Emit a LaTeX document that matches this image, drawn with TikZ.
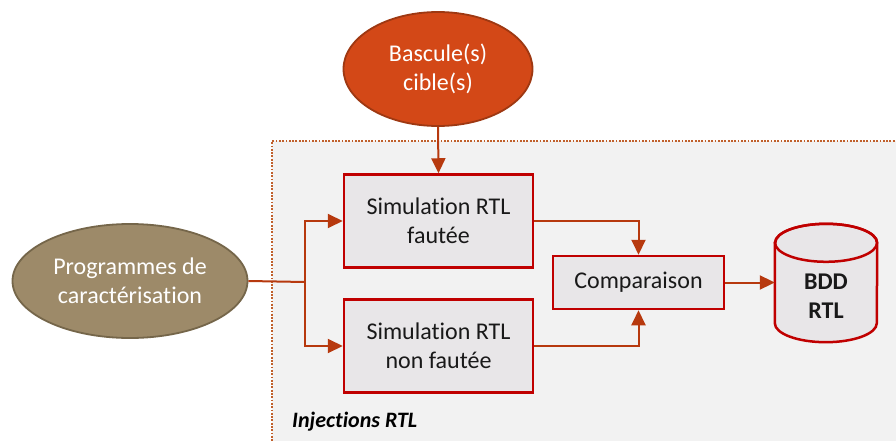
\documentclass[tikz,border=0pt]{standalone}
\usepackage{fontspec}
\setmainfont[Ligatures={NoCommon}]{Carlito}
\usetikzlibrary{shapes.geometric,arrows.meta}
\definecolor{bgfill}{HTML}{F2F2F2}
\definecolor{boxfill}{HTML}{E8E6E8}
\definecolor{boxline}{HTML}{C00000}
\definecolor{arrowc}{HTML}{B7390E}
\definecolor{bascfill}{HTML}{D34817}
\definecolor{bascline}{HTML}{9E3812}
\definecolor{progfill}{HTML}{9D8A69}
\definecolor{progline}{HTML}{75664A}
\definecolor{dotc}{HTML}{C0602C}
\tikzset{
  txt/.style={font=\fontsize{24}{29}\selectfont, align=center},
  simbox/.style={txt, draw=boxline, fill=boxfill, line width=2.5pt, rectangle, inner sep=0pt, text=black!90},
  oval/.style={txt, ellipse, line width=1.8pt, text=white, inner sep=0pt},
  conn/.style={draw=arrowc, line width=2pt, -{Triangle[length=15pt,width=14pt]}},
  plainconn/.style={draw=arrowc, line width=2pt},
}
\begin{document}
\begin{tikzpicture}[x=1pt,y=-1pt]
\useasboundingbox (0,0) rectangle (896,441);
% background frame
\fill[bgfill] (272,141) rectangle (896,441);
\draw[dotc, line width=1.8pt, dash pattern=on 1.8pt off 1.5pt] (272,441) -- (272,141) -- (896,141);

% nodes
\node[oval, fill=bascfill, draw=bascline, minimum width=189pt, minimum height=114pt] (basc) at (438,69) {Bascule(s)\\cible(s)};
\node[oval, fill=progfill, draw=progline, minimum width=235pt, minimum height=114pt] (prog) at (130,281) {Programmes de\\caractérisation};
\node[simbox, minimum width=189pt, minimum height=93pt] (sim1) at (438.5,221) {Simulation RTL\\fautée};
\node[simbox, minimum width=189pt, minimum height=93pt] (sim2) at (438.5,346) {Simulation RTL\\non fautée};
\node[simbox, minimum width=171pt, minimum height=53pt] (comp) at (638.5,282.5) {Comparaison};

% database cylinder
\node[minimum width=102pt, minimum height=118pt, inner sep=0pt] (bdd) at (826,283) {};
\filldraw[fill=boxfill, draw=boxline, line width=2.5pt]
  ([yshift=-19pt]bdd.north west) -- ([yshift=19pt]bdd.south west) arc (180:360:51pt and 19pt)
  -- ([yshift=-19pt]bdd.north east) arc (0:180:51pt and 19pt) -- cycle;
\draw[boxline, line width=2.5pt] ([yshift=-19pt]bdd.north) ellipse (51pt and 19pt);
\node[txt, font=\fontsize{24}{29}\selectfont\bfseries, text=black!90] (bddtxt) at (826,296) {BDD\\RTL};

\node[anchor=base west, font=\fontsize{22}{26}\selectfont\bfseries\itshape, inner sep=0pt] (inj) at (292,427) {Injections RTL};

% connectors
\coordinate (j) at (305,282);
\draw[conn] (basc.south) -- (sim1.north);
\draw[plainconn] (prog.east) -- (j);
\draw[conn] (j) |- (sim1.west);
\draw[conn] (j) |- (sim2.west);
\draw[conn] (sim1.east) -| (comp.north);
\draw[conn] (sim2.east) -| (comp.south);
\draw[conn] (comp.east) -- (bdd.west |- comp.east);
\end{tikzpicture}
\end{document}
